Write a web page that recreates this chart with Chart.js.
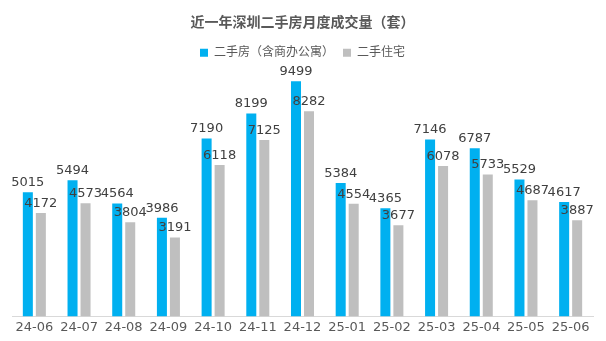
<!DOCTYPE html>
<html>
<head>
<meta charset="utf-8">
<script src="https://cdn.jsdelivr.net/npm/chart.js@4/dist/chart.umd.min.js"></script>
<style>
  html, body { margin: 0; padding: 0; background: #ffffff; }
  #wrap { width: 606px; height: 341px; }
</style>
</head>
<body>
<div id="wrap"><canvas id="c" width="606" height="341"></canvas></div>
<script>
// Monthly second-hand housing transactions in Shenzhen (units)
const months = ['24-06','24-07','24-08','24-09','24-10','24-11','24-12','25-01','25-02','25-03','25-04','25-05','25-06'];
const allSecondHand = [5015, 5494, 4564, 3986, 7190, 8199, 9499, 5384, 4365, 7146, 6787, 5529, 4617];
const residential = [4172, 4573, 3804, 3191, 6118, 7125, 8282, 4554, 3677, 6078, 5733, 4687, 3887];
const seriesNames = ['二手房（含商办公寓）', '二手住宅'];
const titleText = '近一年深圳二手房月度成交量（套）';

const FONT = '"DejaVu Sans", "Noto Sans CJK SC", sans-serif';

// Value labels above each bar
const valueLabels = {
  id: 'valueLabels',
  afterDatasetsDraw(chart) {
    const ctx = chart.ctx;
    ctx.save();
    ctx.font = '13px ' + FONT;
    ctx.fillStyle = '#404040';
    ctx.textAlign = 'center';
    ctx.textBaseline = 'bottom';
    chart.data.datasets.forEach((ds, i) => {
      chart.getDatasetMeta(i).data.forEach((bar, j) => {
        ctx.fillText(String(ds.data[j]), bar.x, bar.y - 3);
      });
    });
    ctx.restore();
  }
};

new Chart(document.getElementById('c'), {
  type: 'bar',
  data: {
    labels: months,
    datasets: [
      { label: seriesNames[0], data: allSecondHand, backgroundColor: '#00b0f0' },
      { label: seriesNames[1], data: residential, backgroundColor: '#bfbfbf' }
    ]
  },
  options: {
    responsive: false,
    animation: false,
    devicePixelRatio: 1,
    layout: { padding: { left: 12, right: 13, top: 0, bottom: 3 } },
    datasets: { bar: { categoryPercentage: 0.582, barPercentage: 0.77 } },
    plugins: {
      title: {
        display: true,
        text: titleText,
        color: '#595959',
        font: { family: FONT, size: 14, weight: 'bold' },
        padding: { top: 15, bottom: 6 }
      },
      legend: {
        display: true,
        labels: {
          color: '#595959',
          font: { family: FONT, size: 12 },
          boxWidth: 8,
          boxHeight: 8,
          padding: 9
        }
      },
      tooltip: { enabled: false }
    },
    scales: {
      x: {
        grid: { display: false, drawTicks: false },
        border: { display: true, color: '#d9d9d9', width: 1 },
        ticks: { color: '#595959', font: { family: FONT, size: 13 }, padding: 3, maxRotation: 0 }
      },
      y: {
        display: false,
        min: 0,
        max: 10000
      }
    }
  },
  plugins: [valueLabels]
});
</script>
</body>
</html>
